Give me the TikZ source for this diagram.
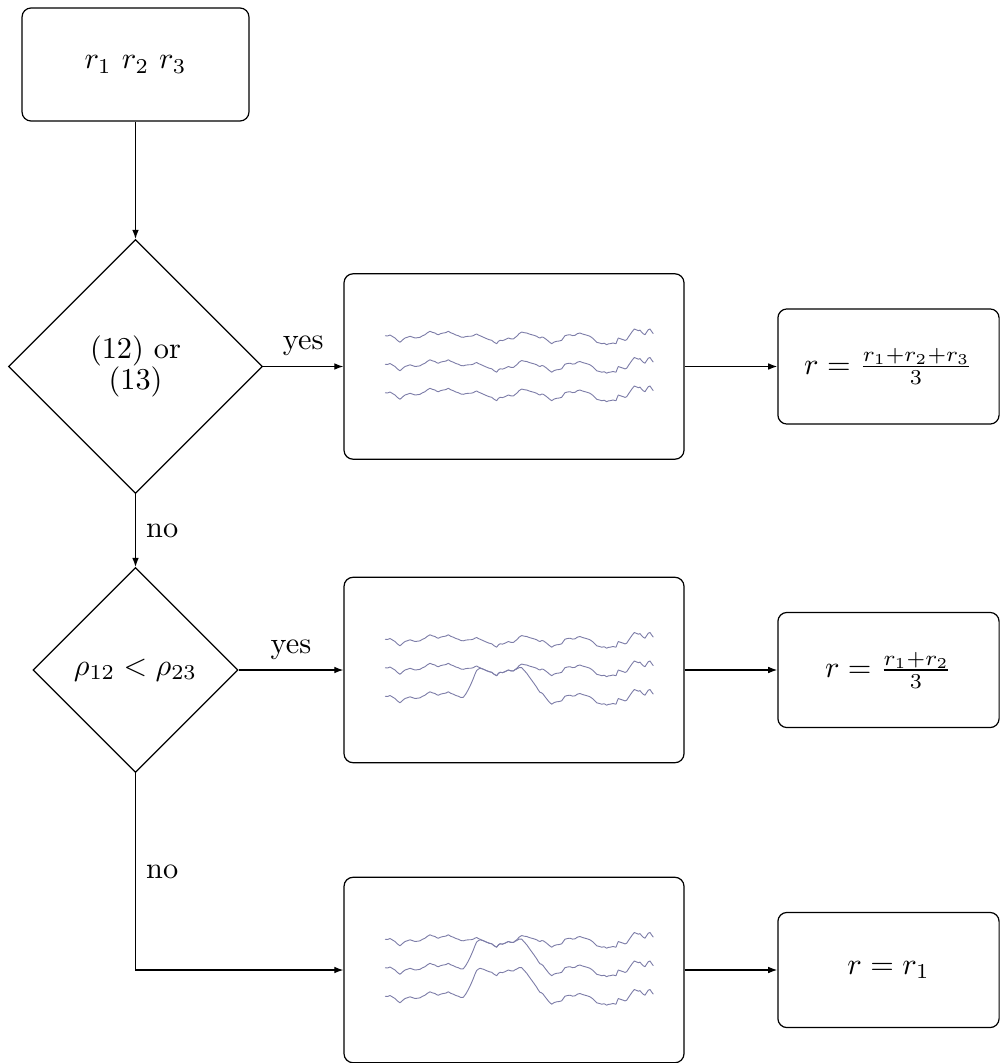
\documentclass[tikz,border=0pt]{standalone}
\usetikzlibrary{shapes.geometric,arrows.meta}

% sampled random-walk profile: x offset / y offset (in drawing units)
\def\walk{0/-2.3,2.5/-2.0,5/-3,7.5/-1.5,10/0,12.5/2.5,15/4.3,17.5/2.0,20/0,22.5/-0.8,25/-1.7,27.5/-0.9,30/0,32.5/-0.3,35/-0.7,37.5/-2.2,40/-3.3,42.5/-5.3,45/-6.7,47.5/-5.6,50/-5,51.7/-3.8,53.3/-3.3,55.8/-4.4,58.3/-5,60.8/-5.4,63.3/-6.7,65.8/-5.2,68.3/-4.3,70.8/-3.0,73.3/-2.3,75.8/-1.0,78.3/-0.7,80.8/-1.4,83.3/-1.7,85.8/-1.8,88.3/-2.3,90/-3.4,91.7/-4,93.3/-3.0,95/-2.3,98.3/-0.8,101.7/0.7,104.2/1.7,106.7/2.3,109.2/4.3,111.7/5.7,113.3/3.5,115/2.3,117.5/2.6,120/1.7,121.7/0.8,123.3/0,125.8/0.8,128.3/1,130/-0.4,131.7/-1.7,134.2/-4.4,136.7/-6,139.2/-5.3,141.7/-5,144.2/-4.0,146.7/-3.3,149.2/-2.6,151.7/-1.7,153.3/-0.6,155/0,156.7/-0.9,158.3/-0.7,160/0.5,161.7/1.7,164.2/3.9,166.7/5.7,169.2/4.0,171.7/3.3,174.2/3.0,176.7/2.3,178.3/0.0,180/-2.3,182.5/-3.0,185/-3.3,187.5/-2.4,190/-2.7,192.5/-4.4,195/-5,197.5/-4.0,200/-3.3,202.5/-2.6,205/-1.7,206.7/-0.5,208.3/0.7,210/2.6,211.7/4.3,214.2/4.9,216.7/5.7,219.2/5.2,221.7/6.7,223.3/5.9,225/5.7,228/5.0,231/5.7,232/3.0,233.3/0,235.8/0.9,238.3/1.7,240/2.4,241.7/1.7,243.3/-0.8,245/-3.3,247.2/-6.4,249.3/-9,251.3/-8.2,253.3/-7.3,255/-7.9,256.7/-5.7,258.3/-4.2,260/-3.3,261.7/-6.0,263.3/-8.3,265/-9,266.7/-6.4,268.3/-4.3}

\tikzset{
  box/.style={draw, rounded corners=3pt, line width=0.4pt, inner sep=0pt},
  startbox/.style={box, minimum width=74.9pt, minimum height=37.3pt},
  seriesbox/.style={box, minimum width=112.2pt, minimum height=61.2pt},
  resultbox/.style={box, minimum width=73.0pt, minimum height=38.0pt},
  decision/.style={draw, shape=diamond, inner sep=0pt, line width=0.4pt, align=center},
  arr/.style={-{Latex[length=3pt,width=2.2pt]}, line width=0.4pt},
  wave/.style={draw={rgb,255:red,125;green,125;blue,168}, line width=0.3pt, line join=round},
  declare function={
    clampb(\t)=max(0,min(1,(\t-76.7)/20,(166.7-\t)/38.7));
    bump(\t)=clampb(\t)*clampb(\t)*(3-2*clampb(\t));
  }
}

% three stacked series inside a box centred at (#1,#2);
% #3 and #4 switch on the raised segment of the middle and lower series
\newcommand\seriestrio[4]{%
  \foreach \k/\b in {0/0,1/#3,2/#4}{%
    \draw[wave] ({#1-129},{#2+(\k-1)*28.5-2.3})
      \foreach \x/\y in \walk { -- ({#1-129+\x},{#2+(\k-1)*28.5+\y-28.5*\b*bump(\x)}) };
  }%
}

\begin{document}
\begin{tikzpicture}[x=0.33pt, y=-0.33pt]
  \useasboundingbox (0,0) rectangle (1000,1063);

  \node[startbox] (start) at (135.5,64.5) {$r_1$ $r_2$ $r_3$};

  \node[decision, minimum width=83.8pt, minimum height=83.8pt] (d1) at (135.5,366.5)
    {(12) or\\[-1.5pt](13)};
  \node[seriesbox] (A) at (514,366.5) {};
  \node[resultbox] (R1) at (888.5,366.5) {$r = \frac{r_1+r_2+r_3}{3}$};

  \node[decision, minimum width=67.6pt, minimum height=67.6pt] (d2) at (135.5,670)
    {$\rho_{12} < \rho_{23}$};
  \node[seriesbox] (B) at (514,670) {};
  \node[resultbox] (R2) at (888.5,670) {$r = \frac{r_1+r_2}{3}$};

  \node[seriesbox] (C) at (514,970) {};
  \node[resultbox] (R3) at (888.5,970) {$r = r_1$};

  \seriestrio{514}{366.5}{0}{0}
  \seriestrio{514}{670}{0}{1}
  \seriestrio{514}{970}{1}{1}

  \draw[arr] (start) -- (d1);
  \draw[arr] (d1) -- node[above] {yes} (A);
  \draw[arr] (A) -- (R1);
  \draw[arr] (d1) -- node[right] {no} (d2);
  \draw[arr] (d2) -- node[above] {yes} (B);
  \draw[arr] (B) -- (R2);
  \draw[arr] (d2) |- node[pos=0.25, right] {no} (C);
  \draw[arr] (C) -- (R3);
\end{tikzpicture}
\end{document}
